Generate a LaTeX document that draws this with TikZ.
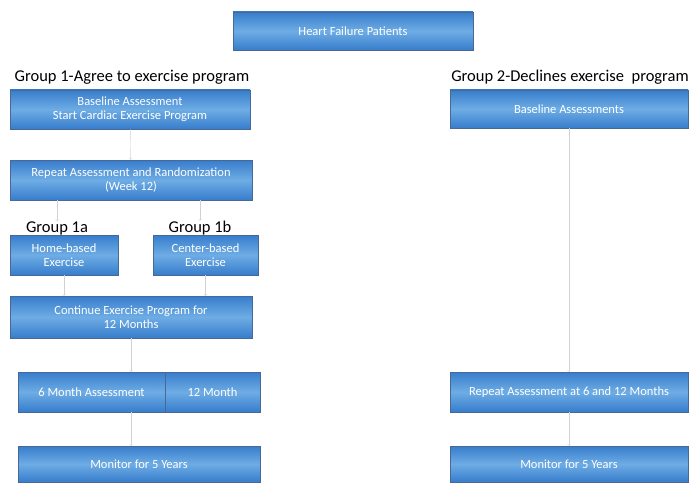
\documentclass[tikz,border=0pt]{standalone}
\usepackage{fontspec}
\setmainfont{Carlito}
\usetikzlibrary{positioning}
\definecolor{boxblue}{RGB}{55,125,204}
\definecolor{boxlight}{RGB}{110,172,228}
\definecolor{boxedge}{RGB}{72,104,150}
\begin{document}
\begin{tikzpicture}[x=1pt,y=-1pt,
    main_box/.style={rectangle,draw=boxedge,top color=boxblue,bottom color=boxblue,middle color=boxlight,text=white,font=\fontsize{12.5}{14}\selectfont,align=center,inner sep=2pt},
    group_label/.style={font=\fontsize{16.5}{18}\selectfont,inner sep=0pt},
    link/.style={->,draw=gray!35,thin}]
    \useasboundingbox (0,0) rectangle (690,484);
    \node[main_box,minimum width=240pt,minimum height=38pt] (top) at (353,31) {Heart Failure Patients};
    % group 1
    \node[group_label] (g1) at (132,77) {Group 1-Agree to exercise program};
    \node[main_box,minimum width=240pt,minimum height=39pt] (base1) at (130,109.5) {Baseline Assessment\\Start Cardiac Exercise Program};
    \node[main_box,minimum width=242pt,minimum height=40pt] (rand) at (131,180) {Repeat Assessment and Randomization\\(Week 12)};
    \node[group_label] (g1a) at (57,228) {Group 1a};
    \node[group_label] (g1b) at (200,228) {Group 1b};
    \node[main_box,minimum width=108pt,minimum height=40pt] (home) at (64,255) {Home-based\\Exercise};
    \node[main_box,minimum width=105pt,minimum height=40pt] (center) at (205.5,255) {Center-based\\Exercise};
    \node[main_box,minimum width=242pt,minimum height=42pt] (cont) at (131,317) {Continue Exercise Program for\\12 Months};
    \node[main_box,minimum width=147pt,minimum height=40pt] (six1) at (91.5,392) {6 Month Assessment};
    \node[main_box,minimum width=95pt,minimum height=40pt] (twelve1) at (212.5,392) {12 Month};
    \node[main_box,minimum width=242pt,minimum height=36pt] (mon1) at (139,464) {Monitor for 5 Years};
    % group 2
    \node[group_label] (g2) at (570,77) {Group 2-Declines exercise\ \ program};
    \node[main_box,minimum width=238pt,minimum height=38pt] (base2) at (569,109) {Baseline Assessments};
    \node[main_box,minimum width=238pt,minimum height=40pt] (six2) at (569,392) {Repeat Assessment at 6 and 12 Months};
    \node[main_box,minimum width=238pt,minimum height=36pt] (mon2) at (569,464) {Monitor for 5 Years};
    % links
    \draw[link] (base1) -- (rand);
    \draw[link] (rand.south -| g1a) -- (g1a);
    \draw[link] (rand.south -| g1b) -- (g1b);
    \draw[link] (home.south) -- (home.south |- cont.north);
    \draw[link] (center.south) -- (center.south |- cont.north);
    \draw[link] (cont.south) -- (cont.south |- six1.north);
    \draw[link] (cont.south |- six1.south) -- (cont.south |- mon1.north);
    \draw[link] (base2) -- (six2);
    \draw[link] (six2) -- (mon2);
\end{tikzpicture}
\end{document}
